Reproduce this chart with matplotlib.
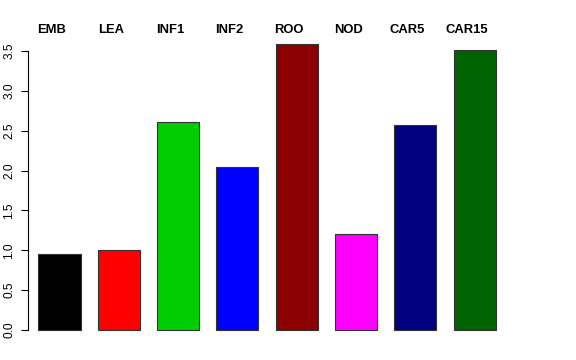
import matplotlib
matplotlib.use("Agg")
import matplotlib.pyplot as plt
import matplotlib.transforms as mtransforms
import numpy as np

categories = ["EMB", "LEA", "INF1", "INF2", "ROO", "NOD", "CAR5", "CAR15"]
values = [0.95, 1.00, 2.61, 2.04, 3.59, 1.20, 2.57, 3.51]
colors = ["#000000", "#FF0000", "#00CD00", "#0000FF", "#8B0000", "#FF00FF", "#000080", "#006400"]
yticks = [0.0, 0.5, 1.0, 1.5, 2.0, 2.5, 3.0, 3.5]

plt.rcParams['font.family'] = ['Liberation Sans', 'DejaVu Sans']

W, H = 576, 360
fig = plt.figure(figsize=(W / 100, H / 100), dpi=100)
ax = fig.add_axes([28 / W, 20 / H, 532 / W, 310 / H])

x = np.arange(len(categories))
ax.bar(x, values, width=0.71, color=colors, edgecolor="#333333", linewidth=0.8)

ax.set_xlim(-0.531, 8.44)
ax.set_ylim(-0.1255, 3.764)

for s in ["top", "right", "bottom"]:
    ax.spines[s].set_visible(False)
ax.spines["left"].set_bounds(0, 3.5)
ax.spines["left"].set_linewidth(0.8)
ax.set_xticks([])
ax.set_yticks(yticks)
ax.set_yticklabels([f"{t:.1f}" for t in yticks], rotation=90, va="center", fontsize=8.6)
ax.tick_params(axis="y", length=5, width=0.8, pad=4)

trans = mtransforms.blended_transform_factory(ax.transData, fig.transFigure)
trans = mtransforms.offset_copy(trans, fig=fig, x=-8, y=0, units="dots")
for xi, lab in zip(x, categories):
    ax.text(xi, (H - 30) / H, lab, transform=trans, ha="center", va="center",
            fontsize=9.4, fontweight="bold", clip_on=False)

fig.savefig("out.png", dpi=100)
